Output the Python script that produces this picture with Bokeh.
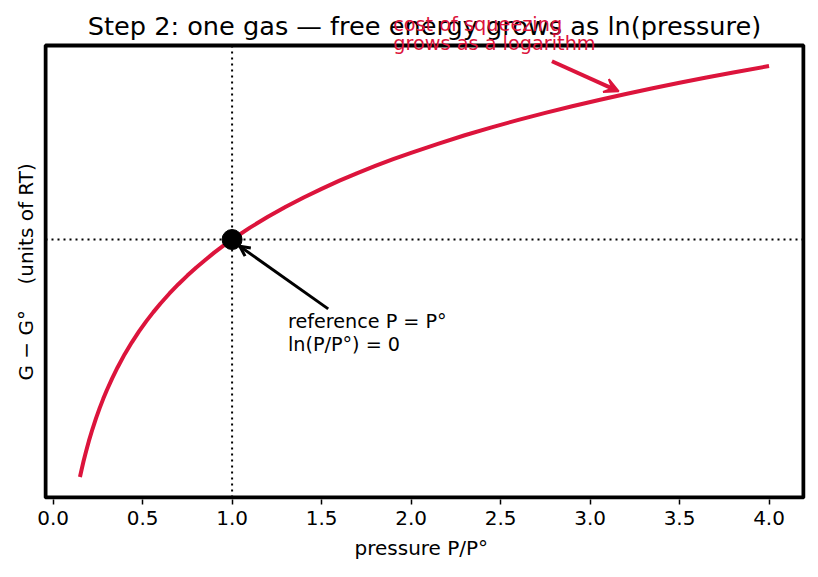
from bokeh.plotting import figure
from bokeh.models import (Range1d, Label, Arrow, OpenHead, VeeHead, FixedTicker,
                          NumeralTickFormatter, BoxAnnotation, Title)
from bokeh.embed import file_html
from bokeh.resources import INLINE

# ---- data ----
pressure = [0.15, 0.16, 0.17, 0.18, 0.19, 0.20, 0.22, 0.24, 0.26, 0.28, 0.30, 0.33, 0.36, 0.40,
            0.44, 0.48, 0.52, 0.56, 0.60, 0.65, 0.70, 0.75, 0.80, 0.85, 0.90, 0.95, 1.00, 1.10,
            1.20, 1.30, 1.40, 1.50, 1.60, 1.70, 1.80, 1.90, 2.00, 2.15, 2.30, 2.45, 2.60, 2.75,
            2.90, 3.05, 3.20, 3.35, 3.50, 3.65, 3.80, 4.00]
free_energy = [-1.897, -1.833, -1.772, -1.715, -1.661, -1.609, -1.514, -1.427, -1.347, -1.273,
               -1.204, -1.109, -1.022, -0.916, -0.821, -0.734, -0.654, -0.580, -0.511, -0.431,
               -0.357, -0.288, -0.223, -0.163, -0.105, -0.051, 0.000, 0.095, 0.182, 0.262,
               0.336, 0.405, 0.470, 0.531, 0.588, 0.642, 0.693, 0.765, 0.833, 0.896, 0.956,
               1.012, 1.065, 1.115, 1.163, 1.209, 1.253, 1.295, 1.335, 1.386]
ref_x = [1.0]
ref_y = [0.0]
x_ticks = [0.0, 0.5, 1.0, 1.5, 2.0, 2.5, 3.0, 3.5, 4.0]

title_text = "Step 2: one gas \u2014 free energy grows as ln(pressure)"
xlabel = "pressure  P/P\u00b0"
ylabel = "G \u2212 G\u00b0\u00a0\u00a0\u00a0 (units of RT)"
note_red = ["cost of squeezing", "grows as a logarithm"]
note_black = ["reference P = P\u00b0", "ln(P/P\u00b0) = 0"]

CRIMSON = "#DC143C"
FONT = "DejaVu Sans"

# axes box (matplotlib-like 5% margins)
xmin, xmax = min(pressure), max(pressure)
ymin, ymax = min(free_energy), max(free_energy)
xlo, xhi = xmin - 0.05 * (xmax - xmin), xmax + 0.05 * (xmax - xmin)
ylo, yhi = ymin - 0.05 * (ymax - ymin), ymax + 0.05 * (ymax - ymin)
BOX_W, BOX_H = 758, 452
sx = BOX_W / (xhi - xlo)
sy = BOX_H / (yhi - ylo)
up = 7.5 / sy  # baseline correction for text labels

# frame extends 2px past the box on left/right/bottom and 45px above (room for title)
p = figure(width=818, height=577, output_backend="svg", toolbar_location=None, title=None,
           y_axis_location=None,
           x_range=Range1d(xlo - 2 / sx, xhi + 2 / sx),
           y_range=Range1d(ylo - 2 / sy, yhi + 45 / sy),
           min_border_left=43, min_border_right=13, min_border_top=0, min_border_bottom=78)

p.grid.visible = False
p.outline_line_color = None
p.background_fill_color = "white"
p.border_fill_color = "white"

ax = p.xaxis[0]
ax.ticker = FixedTicker(ticks=x_ticks)
ax.formatter = NumeralTickFormatter(format="0.0")
ax.axis_line_color = None
ax.major_tick_out = 5
ax.major_tick_in = 0
ax.major_tick_line_width = 1.5
ax.major_tick_line_color = "black"
ax.minor_tick_line_color = None
ax.major_label_text_font = FONT
ax.major_label_text_font_size = "20px"
ax.major_label_text_color = "black"
ax.major_label_standoff = 6
ax.axis_label = xlabel
ax.axis_label_text_font = FONT
ax.axis_label_text_font_size = "20px"
ax.axis_label_text_font_style = "normal"
ax.axis_label_text_color = "black"
ax.axis_label_standoff = 8

# y-axis label (as a side title so it can be centred on the axes box, not the taller frame)
p.add_layout(Title(text=ylabel, align="left", offset=119, text_font=FONT, text_font_size="20px",
                   text_font_style="normal", text_color="black", standoff=12), "left")

# dotted reference lines limited to the axes box
p.segment(x0=[1.0, xlo], y0=[ylo, 0.0], x1=[1.0, xhi], y1=[yhi, 0.0],
          line_color="black", line_width=2, line_dash="2 4")

p.line(pressure, free_energy, line_color=CRIMSON, line_width=4, line_join="round", line_cap="butt")
p.scatter(ref_x, ref_y, size=20, color="black")

p.add_layout(Arrow(end=VeeHead(size=14, fill_color=CRIMSON, line_color=CRIMSON, line_width=2),
                   x_start=2.787, y_start=1.424, x_end=3.16, y_end=1.184,
                   line_color=CRIMSON, line_width=4))
p.add_layout(Arrow(end=OpenHead(size=10, line_color="black", line_width=3),
                   x_start=1.537, y_start=-0.554, x_end=1.043, y_end=-0.054,
                   line_color="black", line_width=3))

# axes box border
p.add_layout(BoxAnnotation(left=xlo, right=xhi, bottom=ylo, top=yhi,
                           fill_color=None, fill_alpha=0, line_color="black", line_width=4, line_alpha=1))

# title (drawn inside the frame so the red note can overlap it as in the original)
p.add_layout(Label(x=(xlo + xhi) / 2, y=1.644 + up, text=title_text, text_color="black", text_font=FONT,
                   text_font_size="25.6px", text_baseline="alphabetic", text_align="center"))

for txt, yy in zip(note_red, [1.657, 1.505]):
    p.add_layout(Label(x=1.90, y=yy + up, text=txt, text_color=CRIMSON, text_font=FONT,
                       text_font_size="19.3px", text_baseline="alphabetic", text_align="left"))
for txt, yy in zip(note_black, [-0.713, -0.900]):
    p.add_layout(Label(x=1.312, y=yy + up, text=txt, text_color="black", text_font=FONT,
                       text_font_size="19.2px", text_baseline="alphabetic", text_align="left"))

open("out.html", "w").write(file_html(p, INLINE))
